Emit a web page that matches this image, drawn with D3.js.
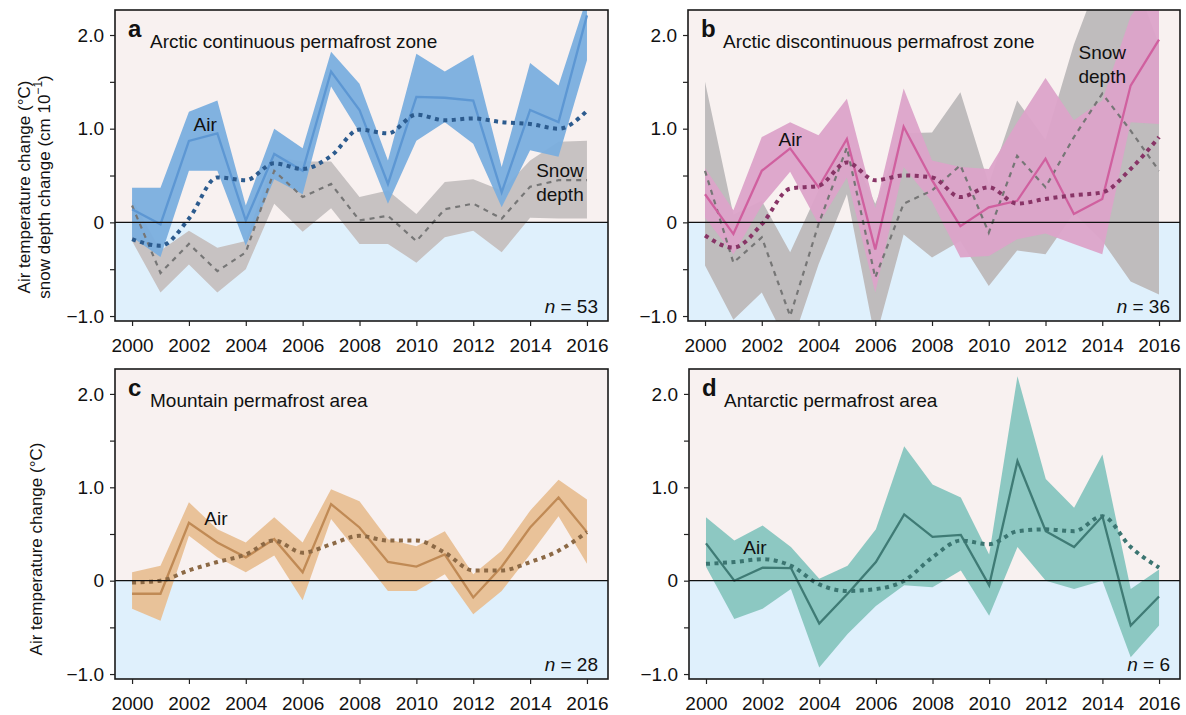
<!DOCTYPE html>
<html lang="en">
<head>
<meta charset="UTF-8">
<title>Permafrost air temperature and snow depth change</title>
<style>
  body { margin: 0; background: #fff; }
  svg text { font-family: "Liberation Sans", Arial, Helvetica, sans-serif; fill: #111; }
  .axis path { display: none; }
  .axis line { stroke: #222; stroke-width: 1.2; }
  .axis text { font-size: 19px; fill: #111; }
</style>
</head>
<body>
<script src="https://cdn.jsdelivr.net/npm/d3@7"></script>
<script>
var years = [2000,2001,2002,2003,2004,2005,2006,2007,2008,2009,2010,2011,2012,2013,2014,2015,2016];
var yearTicks = [2000,2002,2004,2006,2008,2010,2012,2014,2016];
var valueTicks = [-1,-0.5,0,0.5,1,1.5,2];
var valueLabels = ["\u22121.0","","0","","1.0","","2.0"];

// a: Arctic continuous
var aAir      = [0.14,-0.02,0.87,0.95,0.02,0.73,0.55,1.61,1.20,0.41,1.34,1.33,1.30,0.32,1.20,1.07,2.21];
var aAirLo    = [-0.16,-0.37,0.55,0.55,-0.25,0.46,0.30,1.45,0.96,0.20,0.87,1.07,0.84,0.16,0.77,0.70,1.73];
var aAirHi    = [0.37,0.37,1.18,1.30,0.18,1.00,0.79,1.82,1.48,0.66,1.80,1.61,1.79,0.59,1.70,1.46,2.40];
var aAirTrend = [-0.18,-0.25,0.04,0.48,0.45,0.63,0.57,0.71,0.99,0.95,1.15,1.09,1.11,1.07,1.05,1.00,1.19];
var aSnow     = [0.18,-0.54,-0.23,-0.52,-0.32,0.55,0.27,0.41,0.02,0.07,-0.20,0.14,0.20,0.04,0.38,0.45,0.45];
var aSnowLo   = [-0.20,-0.75,-0.45,-0.75,-0.50,0.20,-0.10,0.15,-0.23,-0.23,-0.43,-0.16,-0.09,-0.32,0.05,0.04,0.04];
var aSnowHi   = [0.25,-0.30,-0.09,-0.27,-0.20,0.70,0.65,0.65,0.27,0.34,0.09,0.43,0.46,0.34,0.66,0.86,0.87];

// b: Arctic discontinuous
var bAir      = [0.30,-0.125,0.55,0.79,0.375,0.89,-0.29,1.02,0.45,-0.04,0.16,0.23,0.68,0.09,0.25,1.46,1.95];
var bAirLo    = [0.05,-0.34,0.18,0.54,-0.02,0.48,-0.75,0.59,0.22,-0.375,-0.36,-0.18,-0.12,-0.23,-0.34,1.07,1.05];
var bAirHi    = [0.58,0.13,0.91,1.07,0.93,1.32,0.15,1.43,0.66,0.59,0.57,1.07,1.54,1.09,1.30,2.20,2.60];
var bAirTrend = [-0.14,-0.27,-0.02,0.36,0.39,0.64,0.45,0.50,0.48,0.27,0.375,0.20,0.25,0.29,0.32,0.57,0.91];
var bSnow     = [0.55,-0.43,-0.16,-1.00,-0.02,0.80,-0.59,0.20,0.34,0.61,-0.11,0.71,0.375,0.91,1.375,0.98,0.55];
var bSnowLo   = [-0.46,-1.04,-0.75,-1.35,-0.45,0.30,-1.25,-0.13,-0.375,-0.20,-0.68,-0.30,-0.34,0.10,-0.20,-0.63,-0.77];
var bSnowHi   = [1.50,0.08,0.23,-0.32,0.34,0.85,0.20,0.95,0.96,1.39,0.41,1.30,0.88,1.90,2.70,2.70,1.90];

// c: Mountain
var cAir      = [-0.14,-0.14,0.62,0.41,0.25,0.445,0.09,0.82,0.57,0.20,0.15,0.28,-0.18,0.15,0.57,0.89,0.52];
var cAirLo    = [-0.30,-0.43,0.48,0.25,0.09,0.27,-0.21,0.66,0.28,-0.11,-0.11,0.07,-0.36,-0.11,0.28,0.69,0.18];
var cAirHi    = [0.09,0.16,0.84,0.55,0.41,0.68,0.41,0.98,0.85,0.445,0.37,0.53,0.07,0.32,0.75,1.08,0.87];
var cAirTrend = [-0.02,0.00,0.11,0.20,0.28,0.43,0.30,0.39,0.48,0.43,0.43,0.30,0.11,0.11,0.20,0.32,0.52];

// d: Antarctic
var dAir      = [0.40,0.00,0.14,0.135,-0.46,-0.14,0.20,0.71,0.47,0.49,-0.05,1.28,0.53,0.36,0.69,-0.48,-0.17];
var dAirLo    = [0.15,-0.41,-0.30,-0.09,-0.93,-0.57,-0.27,-0.05,-0.07,0.11,-0.375,0.36,0.00,-0.09,0.00,-0.82,-0.48];
var dAirHi    = [0.68,0.43,0.59,0.36,0.02,0.16,0.55,1.44,1.03,0.89,0.28,2.19,1.09,0.78,1.35,-0.09,0.12];
var dAirTrend = [0.18,0.20,0.23,0.16,-0.04,-0.11,-0.09,0.00,0.25,0.43,0.39,0.53,0.55,0.53,0.69,0.36,0.14];

var svg = d3.select('body').append('svg')
  .attr('width', 1186).attr('height', 715);

var panels = [
  {id:'a', title:'Arctic continuous permafrost zone', n:'53', box:[115,608,10,321],
   air:aAir, lo:aAirLo, hi:aAirHi, trend:aAirTrend, snow:aSnow, snowLo:aSnowLo, snowHi:aSnowHi,
   band:'#7aaede', line:'#5d97d3', trendCol:'#2c5b8e', snowBand:'#c7c2c2',
   airLab:[2002.57,1.05], snowLab:[2015.05,0.55]},
  {id:'b', title:'Arctic discontinuous permafrost zone', n:'36', box:[688,1180,10,321],
   air:bAir, lo:bAirLo, hi:bAirHi, trend:bAirTrend, snow:bSnow, snowLo:bSnowLo, snowHi:bSnowHi,
   band:'#dca3c9', line:'#d0609f', trendCol:'#883466', snowBand:'#bfbcbd',
   airLab:[2003.0,0.88], snowLab:[2014.0,1.81]},
  {id:'c', title:'Mountain permafrost area', n:'28', box:[115,608,369,679],
   air:cAir, lo:cAirLo, hi:cAirHi, trend:cAirTrend,
   band:'#e8bf94', line:'#c08a55', trendCol:'#8c6945',
   airLab:[2002.95,0.67]},
  {id:'d', title:'Antarctic permafrost area', n:'6', box:[689,1180,369,679],
   air:dAir, lo:dAirLo, hi:dAirHi, trend:dAirTrend,
   band:'#87c5bf', line:'#3f7b75', trendCol:'#3b7571',
   airLab:[2001.73,0.35]}
];

panels.forEach(function(p){
  var x0 = p.box[0], x1 = p.box[1], y0 = p.box[2], y1 = p.box[3];
  var x = d3.scaleLinear().domain([1999.4, 2016.74]).range([x0, x1]);
  var y = d3.scaleLinear().domain([-1.053, 2.267]).range([y1, y0]);
  var g = svg.append('g');

  g.append('clipPath').attr('id', 'clip-' + p.id)
    .append('rect').attr('x', x0).attr('y', y0).attr('width', x1 - x0).attr('height', y1 - y0);

  // background: warm above zero, blue below
  g.append('rect').attr('x', x0).attr('y', y0).attr('width', x1 - x0).attr('height', y(0) - y0).attr('fill', '#f8f1f0');
  g.append('rect').attr('x', x0).attr('y', y(0)).attr('width', x1 - x0).attr('height', y1 - y(0)).attr('fill', '#dff0fc');

  var plot = g.append('g').attr('clip-path', 'url(#clip-' + p.id + ')');

  var band = function(lo, hi){
    return d3.area().x(function(d, i){ return x(years[i]); })
      .y0(function(d, i){ return y(lo[i]); })
      .y1(function(d, i){ return y(hi[i]); });
  };
  var line = function(vals, curve){
    return d3.line().x(function(d, i){ return x(years[i]); })
      .y(function(d, i){ return y(vals[i]); }).curve(curve || d3.curveLinear);
  };

  if (p.snow) {
    plot.append('path').datum(years).attr('d', band(p.snowLo, p.snowHi)).attr('fill', p.snowBand);
  }
  plot.append('path').datum(years).attr('d', band(p.lo, p.hi)).attr('fill', p.band).attr('fill-opacity', 0.95);

  // zero line
  g.append('line').attr('x1', x0).attr('x2', x1).attr('y1', y(0)).attr('y2', y(0))
    .attr('stroke', '#111').attr('stroke-width', 1.3);

  if (p.snow) {
    plot.append('path').datum(years).attr('d', line(p.snow)).attr('fill', 'none')
      .attr('stroke', '#767676').attr('stroke-width', 2.2).attr('stroke-dasharray', '5,5');
  }
  plot.append('path').datum(years).attr('d', line(p.air)).attr('fill', 'none')
    .attr('stroke', p.line).attr('stroke-width', 2.3);
  plot.append('path').datum(years).attr('d', line(p.trend, d3.curveMonotoneX)).attr('fill', 'none')
    .attr('stroke', p.trendCol).attr('stroke-width', 4).attr('stroke-dasharray', '4,4.5');

  // frame
  g.append('rect').attr('x', x0).attr('y', y0).attr('width', x1 - x0).attr('height', y1 - y0)
    .attr('fill', 'none').attr('stroke', '#1a1a1a').attr('stroke-width', 1.6);

  // axes
  g.append('g').attr('class', 'axis').attr('transform', 'translate(0,' + y1 + ')')
    .call(d3.axisBottom(x).tickValues(yearTicks).tickFormat(d3.format('d')).tickSize(5).tickPadding(13));
  g.append('g').attr('class', 'axis').attr('transform', 'translate(' + x0 + ',0)')
    .call(d3.axisLeft(y).tickValues(valueTicks).tickFormat(function(d, i){ return valueLabels[i]; })
      .tickSize(5).tickPadding(6));

  // labels
  g.append('text').attr('x', x0 + 13).attr('y', y0 + 27).attr('font-size', 24).attr('font-weight', 'bold').text(p.id);
  g.append('text').attr('x', x0 + 35).attr('y', y0 + 38).attr('font-size', 19).text(p.title);
  var nt = g.append('text').attr('x', x1 - 10).attr('y', y1 - 8).attr('font-size', 19).attr('text-anchor', 'end');
  nt.append('tspan').attr('font-style', 'italic').text('n');
  nt.append('tspan').text(' = ' + p.n);

  g.append('text').attr('x', x(p.airLab[0])).attr('y', y(p.airLab[1])).attr('text-anchor', 'middle')
    .attr('dominant-baseline', 'central').attr('font-size', 19).text('Air');
  if (p.snowLab) {
    g.append('text').attr('x', x(p.snowLab[0])).attr('y', y(p.snowLab[1])).attr('text-anchor', 'middle')
      .attr('dominant-baseline', 'central').attr('font-size', 19).text('Snow');
    g.append('text').attr('x', x(p.snowLab[0])).attr('y', y(p.snowLab[1]) + 24).attr('text-anchor', 'middle')
      .attr('dominant-baseline', 'central').attr('font-size', 19).text('depth');
  }
});

// y-axis titles
svg.append('text').attr('transform', 'translate(24,187) rotate(-90)').attr('text-anchor', 'middle')
  .attr('dominant-baseline', 'central').attr('font-size', 17).text('Air temperature change (\u00B0C)');
var t2 = svg.append('text').attr('transform', 'translate(44,187) rotate(-90)').attr('text-anchor', 'middle')
  .attr('dominant-baseline', 'central').attr('font-size', 17);
t2.append('tspan').text('snow depth change (cm 10');
t2.append('tspan').attr('dy', -6).attr('font-size', 12).text('\u22121');
t2.append('tspan').attr('dy', 6).text(')');
svg.append('text').attr('transform', 'translate(36,549) rotate(-90)').attr('text-anchor', 'middle')
  .attr('dominant-baseline', 'central').attr('font-size', 17).text('Air temperature change (\u00B0C)');
</script>
</body>
</html>
